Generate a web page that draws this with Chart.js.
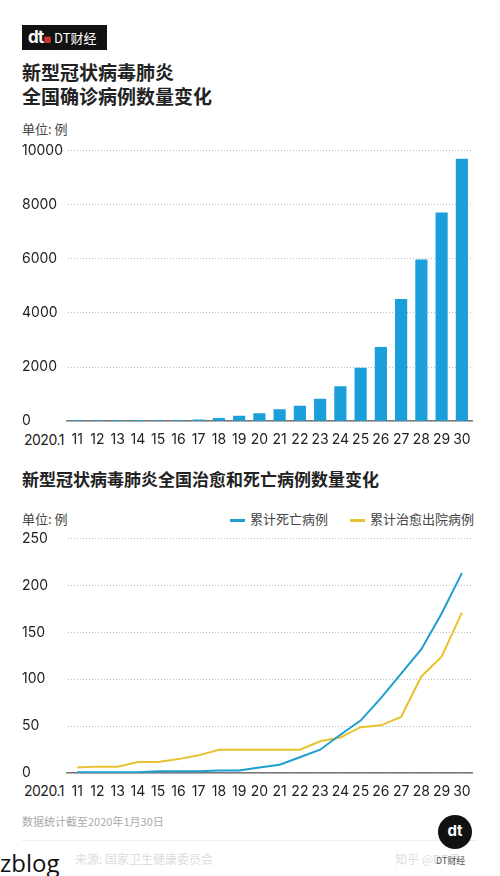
<!DOCTYPE html>
<html><head><meta charset="utf-8">
<script src="https://cdn.jsdelivr.net/npm/chart.js@4/dist/chart.umd.min.js"></script>
<style>
body{margin:0;width:500px;height:876px;background:#fff;position:relative;overflow:hidden;font-family:"Noto Sans CJK SC","Noto Sans",sans-serif;color:#222}
.a{position:absolute;white-space:nowrap}
canvas{position:absolute}
</style></head><body>
<div class="a" style="left:22px;top:25px;width:85px;height:25px;background:#111;color:#fff;font-size:13px;line-height:25px"><b style="font-family:Inter;font-size:17px;margin-left:6px;letter-spacing:-1px">dt</b><span style="color:#c33;font-size:8px">■</span> DT财经</div>
<div class="a" style="left:22px;top:60px;font-size:19px;font-weight:bold;line-height:24px">新型冠状病毒肺炎<br>全国确诊病例数量变化</div>
<div class="a" style="left:22px;top:119px;font-size:13px;color:#444">单位: 例</div>
<div class="a" style="left:22px;top:466px;font-size:17px;font-weight:bold">新型冠状病毒肺炎全国治愈和死亡病例数量变化</div>
<div class="a" style="left:22px;top:509px;font-size:13px;color:#444">单位: 例</div>
<div class="a" style="left:230px;top:509px;font-size:13px;color:#444"><span style="display:inline-block;width:15px;height:3px;background:#1e9fcc;vertical-align:middle;margin-right:5px"></span>累计死亡病例</div>
<div class="a" style="left:350px;top:509px;font-size:13px;color:#444"><span style="display:inline-block;width:15px;height:3px;background:#e8c22e;vertical-align:middle;margin-right:5px"></span>累计治愈出院病例</div>
<div class="a" style="left:24px;top:431px;font-size:14px;font-family:Inter;letter-spacing:-0.5px">2020.1</div>
<div class="a" style="left:24px;top:782px;font-size:14px;font-family:Inter;letter-spacing:-0.5px">2020.1</div>
<div class="a" style="left:22px;top:813px;font-size:11px;color:#aaa">数据统计截至2020年1月30日</div>
<div class="a" style="left:22px;top:840px;width:455px;height:1px;background:#eee"></div>
<div class="a" style="left:75px;top:850px;font-size:12px;color:#ddd">来源: 国家卫生健康委员会</div>
<div class="a" style="left:395px;top:850px;font-size:12px;color:#ddd">知乎 @DT君</div>
<div class="a" style="left:438px;top:815px;width:34px;height:34px;border-radius:50%;background:#111;color:#fff;font:bold 15px Inter;text-align:center;line-height:32px">dt</div>
<div class="a" style="left:436px;top:854px;font-size:9px;color:#555">DT财经</div>
<div class="a" style="left:0px;top:846px;font-size:24px;font-family:'Open Sans';color:#111">zblog</div>
<canvas id="c1" width="500" height="314" style="left:0;top:136px;width:500px;height:314px"></canvas>
<canvas id="c2" width="500" height="278" style="left:0;top:524px;width:500px;height:278px"></canvas>
<script>
const days=['11','12','13','14','15','16','17','18','19','20','21','22','23','24','25','26','27','28','29','30'];
const confirmed=[41,41,41,41,41,45,62,121,198,291,440,571,830,1287,1975,2744,4515,5974,7711,9692];
const deaths=[1,1,1,1,2,2,2,3,3,6,9,17,25,41,56,80,106,132,170,213];
const cured=[6,7,7,12,12,15,19,25,25,25,25,25,34,38,49,51,60,103,124,171];
const yTicks1=[0,2000,4000,6000,8000,10000];
const yTicks2=[0,50,100,150,200,250];
const font={family:'Inter',size:14};
function scales(max,ticks){return{
 x:{offset:true,grid:{display:false},border:{color:'#777',width:1.5},ticks:{color:'#222',font,padding:2,maxRotation:0,autoSkip:false}},
 y:{min:0,max,afterFit:s=>{s.width=45},afterBuildTicks:a=>{a.ticks=ticks.map(v=>({value:v}))},grid:{color:'#bbb',lineWidth:1,drawTicks:false},border:{display:true,color:'rgba(0,0,0,0)',dash:[1,2]},
   ticks:{color:'#222',font,crossAlign:'far',padding:6,callback:v=>String(v)}}};}
new Chart(document.getElementById('c1'),{type:'bar',data:{labels:days,datasets:[{data:confirmed,backgroundColor:'#1a9fda',barPercentage:0.6,categoryPercentage:1}]},
 options:{responsive:false,animation:false,plugins:{legend:{display:false},tooltip:{enabled:false}},layout:{padding:{left:22,right:28,top:6}},scales:scales(10000,yTicks1)}});
new Chart(document.getElementById('c2'),{type:'line',data:{labels:days,datasets:[
 {data:deaths,borderColor:'#1e9fcc',borderWidth:2,pointRadius:0,tension:0},
 {data:cured,borderColor:'#e8c22e',borderWidth:2,pointRadius:0,tension:0}]},
 options:{responsive:false,animation:false,plugins:{legend:{display:false},tooltip:{enabled:false}},layout:{padding:{left:22,right:28,top:8}},scales:scales(250,yTicks2)}});
</script></body></html>
